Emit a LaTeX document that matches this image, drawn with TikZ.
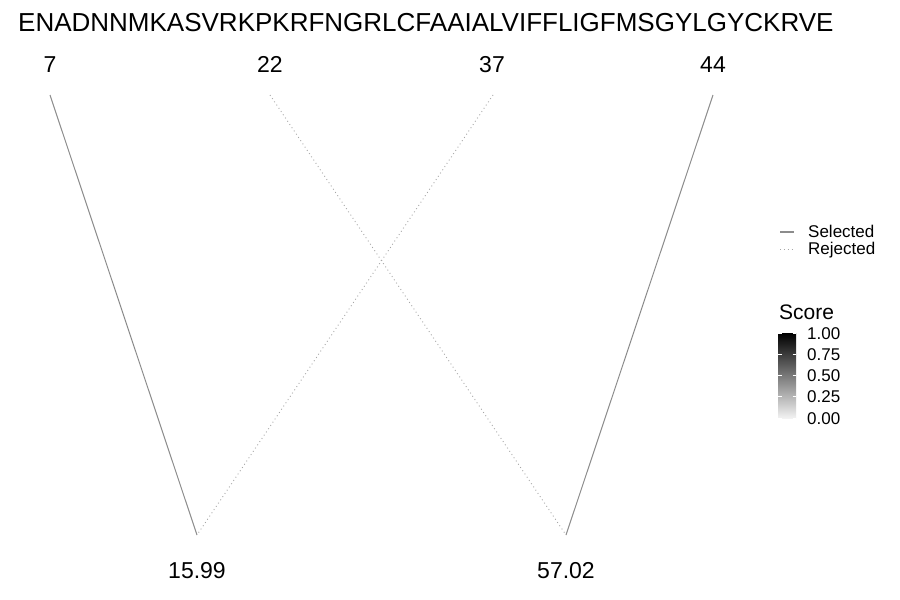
\documentclass[tikz,border=0pt]{standalone}
\usepackage{fontspec}
\setmainfont{Liberation Sans}
\usetikzlibrary{positioning}

\tikzset{
  sel/.style = {draw=gray!90, line width=1pt},
  rej/.style = {draw=gray!70, line width=0.9pt, dash pattern=on 0.9pt off 3pt},
  posnum/.style = {font=\fontsize{23}{25}\selectfont, inner sep=0pt, anchor=base},
  leg/.style = {font=\fontsize{17}{19}\selectfont, inner sep=0pt, anchor=base west}
}

\begin{document}
\begin{tikzpicture}[x=1pt, y=-1pt]
\useasboundingbox (0,0) rectangle (900,600);
\fill[white] (0,0) rectangle (900,600);

% sequence
\node[anchor=base west, inner sep=0pt, font=\fontsize{26}{29}\selectfont] (seq) at (18,31.5) {ENADNNMKASVRKPKRFNGRLCFAAIALVIFFLIGFMSGYLGYCKRVE};

% positions and masses
\node[posnum] (n7) at (50,72) {7};
\node[posnum] (n22) at (270,72) {22};
\node[posnum] (n37) at (492,72) {37};
\node[posnum] (n44) at (713,72) {44};
\node[posnum] (m1) at (197,578) {15.99};
\node[posnum] (m2) at (566,578) {57.02};

\coordinate (p7) at (50,95);
\coordinate (p22) at (270,95);
\coordinate (p37) at (493,95);
\coordinate (p44) at (713,95);
\coordinate (q1) at (197,535);
\coordinate (q2) at (566,535);

\draw[sel] (p7) -- (q1);
\draw[rej] (p22) -- (q2);
\draw[rej] (p37) -- (q1);
\draw[sel] (p44) -- (q2);

% legend
\draw[sel, line width=1.3pt] (780,232) -- (794,232);
\draw[rej] (780,249) -- (794,249);
\node[leg] (lsel) at (808,237) {Selected};
\node[leg] (lrej) at (808,254) {Rejected};

\node[leg, font=\fontsize{21}{23}\selectfont] (score) at (779,319.5) {Score};
\shade[top color=black, bottom color=white!95!black] (778,333) rectangle (796,418);
\foreach \y/\v in {333/1.00, 354.25/0.75, 375.5/0.50, 396.75/0.25, 418/0.00} {
  \draw[white, line width=0.6pt] (778,\y) -- (781.5,\y);
  \draw[white, line width=0.6pt] (792.5,\y) -- (796,\y);
  \node[leg] at (807,\y+6) {\v};
}
\end{tikzpicture}
\end{document}
